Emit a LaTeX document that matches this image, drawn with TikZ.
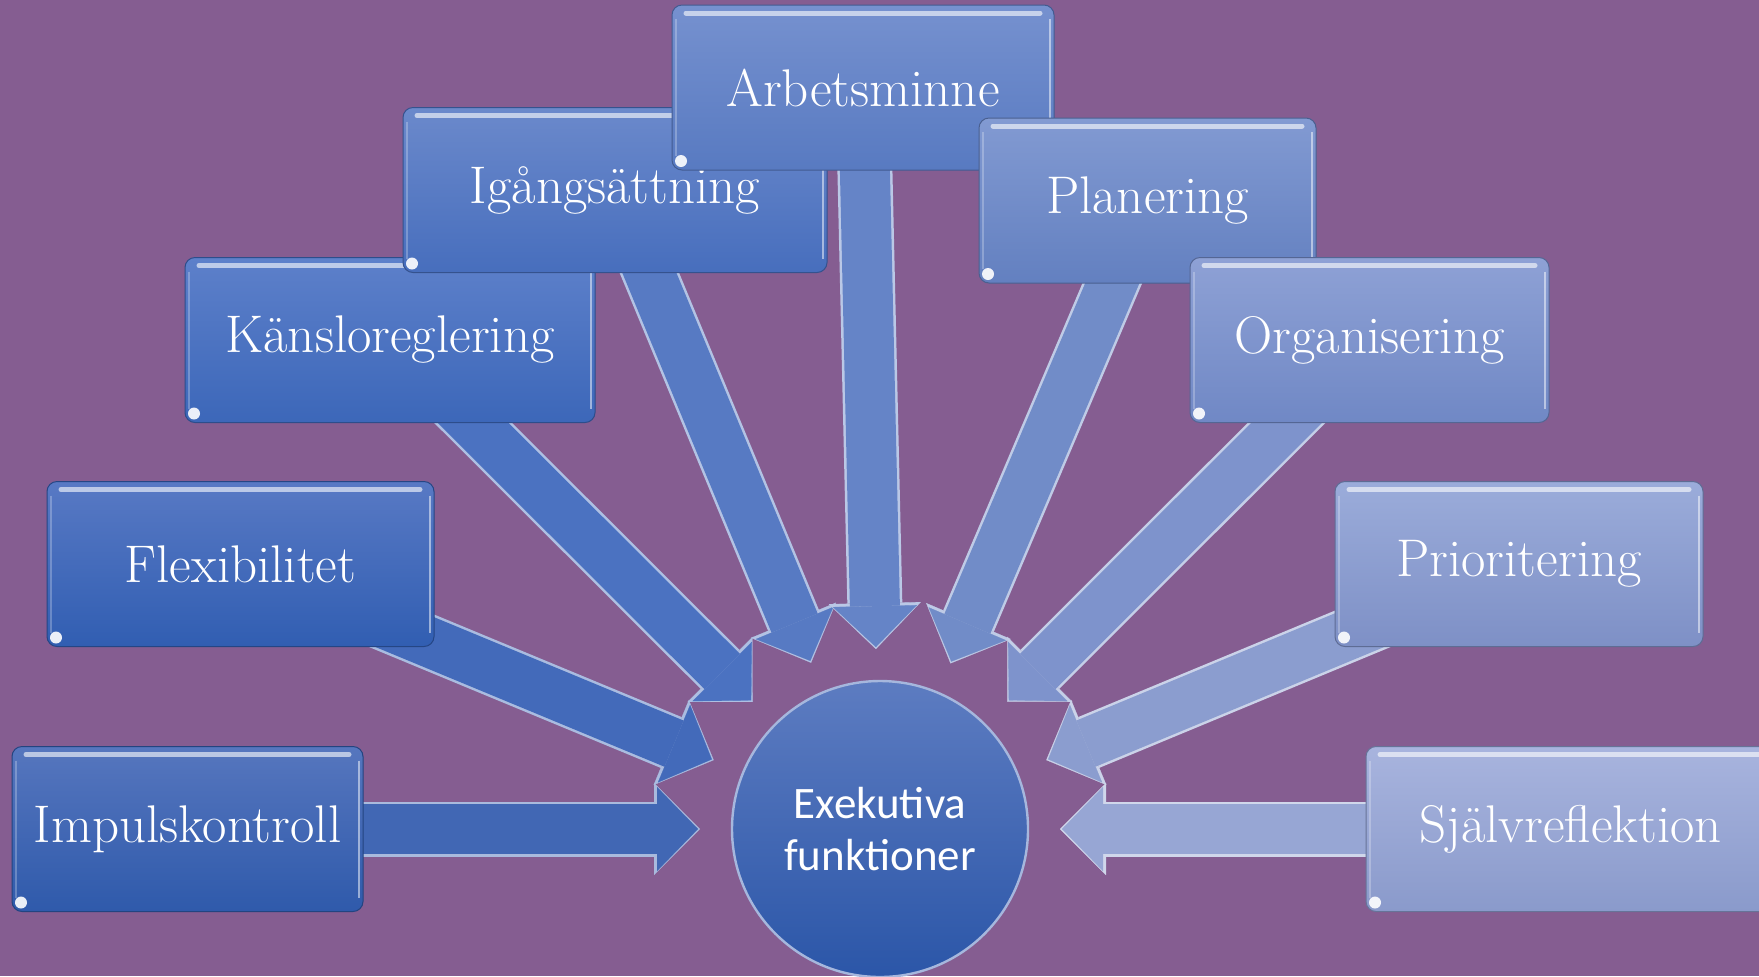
\documentclass[tikz,border=0pt]{standalone}
\usepackage{fontspec}
\newfontfamily\calib{Carlito}
\usetikzlibrary{arrows.meta,calc}
\pgfdeclarelayer{bglayer}
\pgfdeclarelayer{arrowlayer}
\pgfsetlayers{bglayer,arrowlayer,main}

\definecolor{bgpurple}{RGB}{133,93,145}
\definecolor{c1t}{RGB}{86,118,190}  \definecolor{c1b}{RGB}{47,90,171}
\definecolor{c2t}{RGB}{88,121,196}  \definecolor{c2b}{RGB}{49,94,178}
\definecolor{c3t}{RGB}{93,128,202}  \definecolor{c3b}{RGB}{60,103,185}
\definecolor{c4t}{RGB}{107,137,203} \definecolor{c4b}{RGB}{71,110,189}
\definecolor{c5t}{RGB}{118,145,207} \definecolor{c5b}{RGB}{88,122,193}
\definecolor{c6t}{RGB}{130,154,210} \definecolor{c6b}{RGB}{99,128,192}
\definecolor{c7t}{RGB}{142,161,213} \definecolor{c7b}{RGB}{112,136,197}
\definecolor{c8t}{RGB}{155,172,218} \definecolor{c8b}{RGB}{126,144,198}
\definecolor{c9t}{RGB}{168,180,222} \definecolor{c9b}{RGB}{138,154,203}
\definecolor{cirt}{RGB}{93,124,193} \definecolor{cirb}{RGB}{43,86,168}

\tikzset{
  box/.style={rectangle, rounded corners=5pt, minimum height=82.5pt,
    inner sep=0pt, text=white, font=\fontsize{26.5pt}{30pt}\selectfont,
    top color=#1t, bottom color=#1b, draw=#1b!75!black, line width=0.5pt,
    path picture={
      \draw[white, opacity=0.6, line width=2.5pt, line cap=round]
        ([xshift=7pt,yshift=-4pt]path picture bounding box.north west) --
        ([xshift=-7pt,yshift=-4pt]path picture bounding box.north east);
      \draw[white, opacity=0.5, line width=1.2pt]
        ([xshift=-2pt,yshift=-7pt]path picture bounding box.north east) --
        ([xshift=-2pt,yshift=7pt]path picture bounding box.south east);
      \draw[white, opacity=0.25, line width=1pt]
        ([xshift=2pt,yshift=-7pt]path picture bounding box.north west) --
        ([xshift=2pt,yshift=7pt]path picture bounding box.south west);
      \fill[white, opacity=0.9] ([xshift=4.5pt,yshift=4.5pt]path picture bounding box.south west) circle (3pt);
    }},
  hub/.style={circle, minimum size=148pt, inner sep=0pt, text=white,
    top color=cirt, bottom color=cirb, draw=cirt!55!white, line width=1.2pt,
    align=center, font=\calib\fontsize{22.5pt}{26pt}\selectfont},
  barrowrim/.style={line width=27.5pt, color=#1!45!white, shorten >=90pt,
    -{Triangle[width=46pt,length=23pt,line width=0.1pt]}},
  barrow/.style={line width=25pt, color=#1, shorten >=91pt,
    -{Triangle[width=42pt,length=20.5pt,line width=0.1pt]}},
}

\begin{document}
\begin{tikzpicture}[x=0.5pt,y=-0.5pt]
\useasboundingbox (0,0) rectangle (1759,976);
\begin{pgfonlayer}{bglayer}
  \fill[bgpurple] (0,0) rectangle (1759,976);
\end{pgfonlayer}

\node[box=c1, minimum width=175.5pt] (k1) at (187.5,829) {Impulskontroll};
\node[box=c2, minimum width=193.5pt] (k2) at (240.5,564) {Flexibilitet};
\node[box=c3, minimum width=205pt] (k3) at (390,340) {Känsloreglering};
\node[box=c4, minimum width=212pt] (k4) at (615,190) {Igångsättning};
\node[box=c5, minimum width=191pt] (k5) at (863,87.5) {Arbetsminne};
\node[box=c6, minimum width=168.5pt] (k6) at (1147.5,200.5) {Planering};
\node[box=c7, minimum width=179.5pt] (k7) at (1369.5,340) {Organisering};
\node[box=c8, minimum width=184pt] (k8) at (1519,564) {Prioritering};
\node[box=c9, minimum width=204.5pt] (k9) at (1570.5,829) {Självreflektion};

\node[hub] (ex) at (880,829) {Exekutiva\\funktioner};

\begin{pgfonlayer}{arrowlayer}
  \foreach \k/\c in {k1/c1t!45!c1b, k2/c2t!45!c2b, k3/c3t!45!c3b, k4/c4t!45!c4b,
                     k5/c5t!45!c5b, k6/c6t!45!c6b, k7/c7t!45!c7b, k8/c8t!45!c8b,
                     k9/c9t!45!c9b} {
    \draw[barrowrim=\c] (\k.center) -- (ex.center);
    \draw[barrow=\c] (\k.center) -- (ex.center);
  }
\end{pgfonlayer}
\end{tikzpicture}
\end{document}
